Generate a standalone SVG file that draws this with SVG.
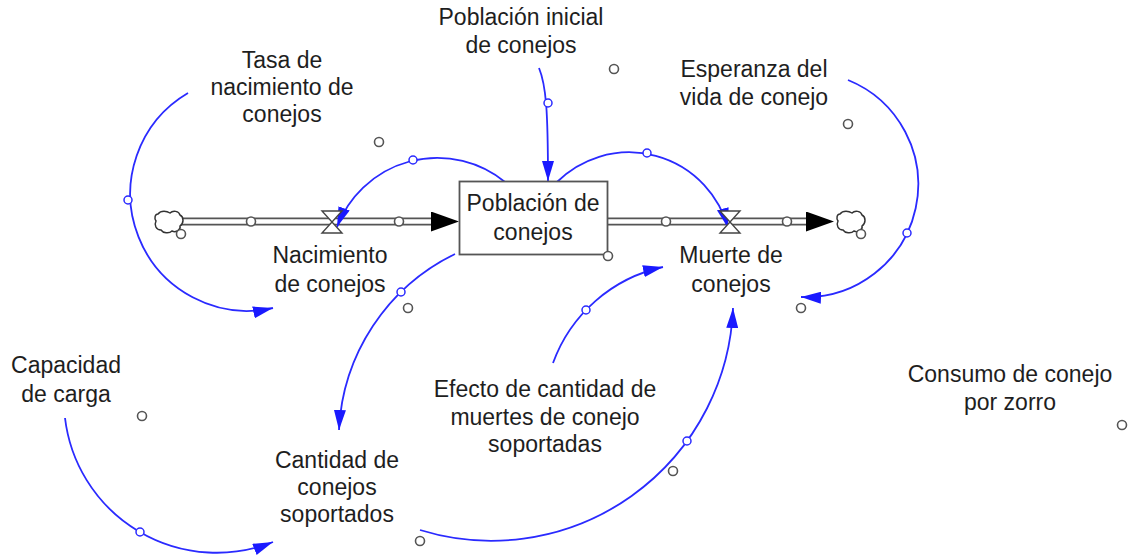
<svg xmlns="http://www.w3.org/2000/svg" width="1129" height="558" viewBox="0 0 1129 558">
<style>
.t{font-family:"Liberation Sans",Arial,sans-serif;font-size:23px;fill:#1e1e1e;text-anchor:middle}
.lnk{fill:none;stroke:#2a2aff;stroke-width:1.8;marker-end:url(#ba)}
.mid{fill:#fff;stroke:#2a2aff;stroke-width:1.5}
.gc{fill:#fff;stroke:#555;stroke-width:1.6}
.pipeo{stroke:#555;stroke-width:8;fill:none}
.pipei{stroke:#fff;stroke-width:4.5;fill:none}
.valve{fill:#fff;stroke:#444;stroke-width:1.4}
.cloud{fill:#fff;stroke:#333;stroke-width:1.5}
</style>
<defs>
<marker id="ba" viewBox="0 0 20 12" refX="20" refY="6" markerWidth="20" markerHeight="12" markerUnits="userSpaceOnUse" orient="auto">
<path d="M0,0 L20,6 L0,12 z" fill="#1a1aff"/>
</marker>
<marker id="ka" viewBox="0 0 28 20" refX="28" refY="10" markerWidth="28" markerHeight="20" markerUnits="userSpaceOnUse" orient="auto">
<path d="M0,0 L28,10 L0,20 z" fill="#000"/>
</marker>
</defs>
<rect width="1129" height="558" fill="#fff"/>

<g id="flows">
<g id="flow-in">
<path class="pipeo" d="M180,221.5 H432"/>
<path class="pipei" d="M180,221.5 H432"/>
<path d="M432,221.5 H459" stroke="none" marker-end="url(#ka)"/>
<circle class="gc" cx="251" cy="221.5" r="4.5"/>
<circle class="gc" cx="399" cy="221.5" r="4.5"/>
</g>
<g id="flow-out">
<path class="pipeo" d="M607,221.5 H806"/>
<path class="pipei" d="M607,221.5 H806"/>
<path d="M806,221.5 H834" stroke="none" marker-end="url(#ka)"/>
<circle class="gc" cx="666" cy="221.5" r="4.5"/>
<circle class="gc" cx="787" cy="221.5" r="4.5"/>
</g>
</g>

<g id="cloud-source">
<path class="cloud" d="M158,214 c3,-4 9,-3 12,-1 c3,-3 9,-2 10,2 c4,2 4,8 0,11 c1,4 -4,7 -8,5 c-3,3 -9,2 -11,-1 c-5,0 -7,-5 -5,-9 c-2,-3 -1,-7 2,-7 z"/>
<circle class="gc" cx="181" cy="234" r="4.5"/>
</g>
<g id="cloud-sink">
<path class="cloud" d="M840,214 c3,-4 9,-3 12,-1 c3,-3 9,-2 10,2 c4,2 4,8 0,11 c1,4 -4,7 -8,5 c-3,3 -9,2 -11,-1 c-5,0 -7,-5 -5,-9 c-2,-3 -1,-7 2,-7 z"/>
<circle class="gc" cx="861" cy="234" r="4.5"/>
</g>

<g id="connectors">
<path class="lnk" d="M188,93 A117,117 0 0 0 273,308"/>
<circle class="mid" cx="128" cy="200" r="4"/>
<path class="lnk" d="M539,68 C546,85 548,110 548,181"/>
<circle class="mid" cx="548" cy="103" r="4"/>
<path class="lnk" d="M505,182 A107.2,107.2 0 0 0 337,227"/>
<circle class="mid" cx="413" cy="160" r="4"/>
<path class="lnk" d="M557,182 A102.4,102.4 0 0 1 728,228"/>
<circle class="mid" cx="647" cy="153" r="4"/>
<path class="lnk" d="M848,80 A112.7,112.7 0 0 1 801,297"/>
<circle class="mid" cx="907" cy="233" r="4"/>
<path class="lnk" d="M455,254 A206.6,206.6 0 0 0 339,430"/>
<circle class="mid" cx="401" cy="292" r="4"/>
<path class="lnk" d="M553,363 A151,151 0 0 1 663,267"/>
<circle class="mid" cx="586" cy="310" r="4"/>
<path class="lnk" d="M65,418 A152.8,152.8 0 0 0 273,542"/>
<circle class="mid" cx="140" cy="532" r="4"/>
<path class="lnk" d="M420,530 A241.8,241.8 0 0 0 733,308"/>
<circle class="mid" cx="687" cy="441" r="4"/>
</g>

<g id="stock-poblacion">
<rect x="459.5" y="181.5" width="148" height="73" fill="#fff" stroke="#555" stroke-width="1.8"/>
<text class="t" x="533" y="211">Población de</text>
<text class="t" x="533" y="240">conejos</text>
<circle class="gc" cx="608" cy="256" r="4.5"/>
</g>

<g id="valve-nacimiento">
<path class="valve" d="M322,211 H342 L322,233 H342 Z"/>
<text class="t" x="330" y="263">Nacimiento</text>
<text class="t" x="330" y="292">de conejos</text>
</g>

<g id="valve-muerte">
<path class="valve" d="M720,211 H740 L720,233 H740 Z"/>
<text class="t" x="731" y="263">Muerte de</text>
<text class="t" x="731" y="292">conejos</text>
<circle class="gc" cx="801" cy="308" r="4.5"/>
</g>

<g id="aux-tasa">
<text class="t" x="282" y="68">Tasa de</text>
<text class="t" x="282" y="95">nacimiento de</text>
<text class="t" x="282" y="122">conejos</text>
<circle class="gc" cx="379" cy="142" r="4.5"/>
</g>

<g id="aux-poblacion-inicial">
<text class="t" x="521" y="25">Población inicial</text>
<text class="t" x="521" y="53">de conejos</text>
<circle class="gc" cx="614" cy="69" r="4.5"/>
</g>

<g id="aux-esperanza">
<text class="t" x="754" y="77">Esperanza del</text>
<text class="t" x="754" y="105">vida de conejo</text>
<circle class="gc" cx="848" cy="124" r="4.5"/>
</g>

<g id="aux-capacidad">
<text class="t" x="66" y="373">Capacidad</text>
<text class="t" x="66" y="402">de carga</text>
<circle class="gc" cx="142" cy="416" r="4.5"/>
</g>

<g id="aux-cantidad">
<text class="t" x="337" y="468">Cantidad de</text>
<text class="t" x="337" y="495">conejos</text>
<text class="t" x="337" y="522">soportados</text>
<circle class="gc" cx="420" cy="541" r="4.5"/>
<circle class="gc" cx="408" cy="308" r="4.5"/>
</g>

<g id="aux-efecto">
<text class="t" x="545" y="397">Efecto de cantidad de</text>
<text class="t" x="545" y="425">muertes de conejo</text>
<text class="t" x="545" y="452">soportadas</text>
<circle class="gc" cx="673" cy="471" r="4.5"/>
</g>

<g id="aux-consumo">
<text class="t" x="1010" y="382">Consumo de conejo</text>
<text class="t" x="1010" y="410">por zorro</text>
<circle class="gc" cx="1122" cy="425" r="4.5"/>
</g>
</svg>
